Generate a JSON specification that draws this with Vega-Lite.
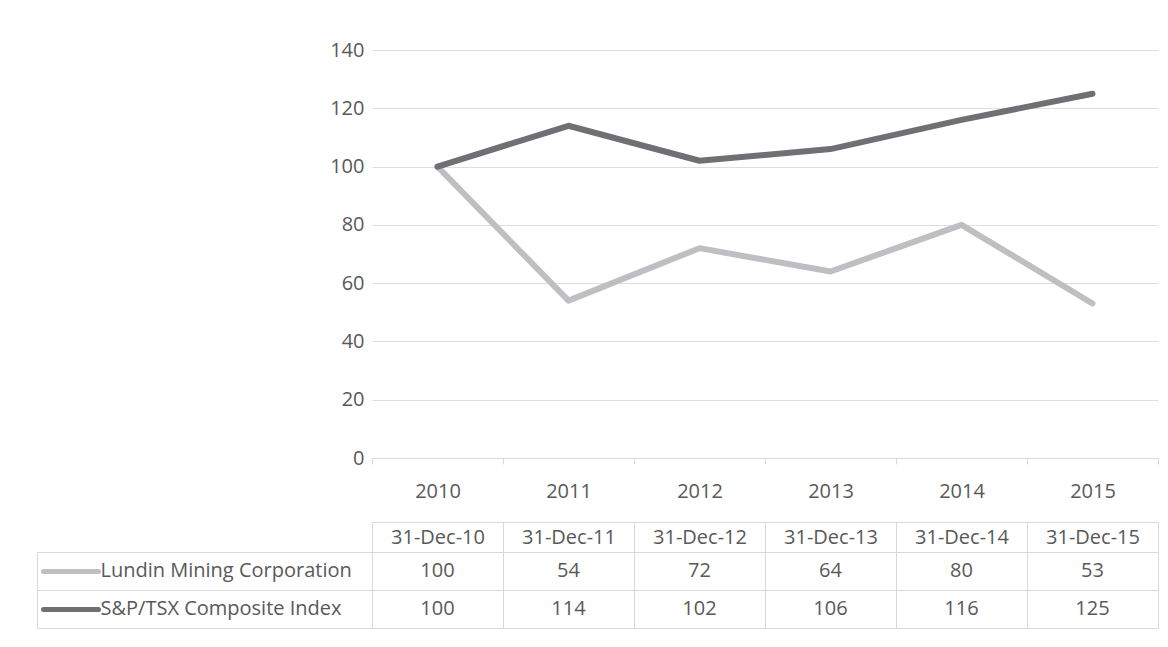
{
  "$schema": "https://vega.github.io/schema/vega-lite/v6.json",
  "padding": {"left": 36, "top": 40, "right": 5, "bottom": 5},
  "background": "white",
  "spacing": 20,
  "config": {
    "font": "Open Sans",
    "view": {"stroke": null},
    "axis": {"labelFont": "Open Sans", "labelFontSize": 20, "labelColor": "#595959"}
  },
  "datasets": {
    "d": [
      {"year": "2010", "series": "Lundin Mining Corporation", "value": 100},
      {"year": "2011", "series": "Lundin Mining Corporation", "value": 54},
      {"year": "2012", "series": "Lundin Mining Corporation", "value": 72},
      {"year": "2013", "series": "Lundin Mining Corporation", "value": 64},
      {"year": "2014", "series": "Lundin Mining Corporation", "value": 80},
      {"year": "2015", "series": "Lundin Mining Corporation", "value": 53},
      {"year": "2010", "series": "S&P/TSX Composite Index", "value": 100},
      {"year": "2011", "series": "S&P/TSX Composite Index", "value": 114},
      {"year": "2012", "series": "S&P/TSX Composite Index", "value": 102},
      {"year": "2013", "series": "S&P/TSX Composite Index", "value": 106},
      {"year": "2014", "series": "S&P/TSX Composite Index", "value": 116},
      {"year": "2015", "series": "S&P/TSX Composite Index", "value": 125}
    ]
  },
  "vconcat": [
    {
      "width": 786,
      "height": 408,
      "data": {"name": "d"},
      "mark": {"type": "line", "strokeWidth": 6, "strokeCap": "round", "strokeJoin": "round"},
      "encoding": {
        "x": {
          "field": "year", "type": "ordinal",
          "scale": {"type": "band", "paddingInner": 0, "paddingOuter": 0},
          "axis": {"title": null, "labelAngle": 0, "tickBand": "extent", "domainColor": "#d9d9d9", "tickColor": "#d9d9d9", "tickSize": 6, "labelPadding": 17, "grid": false}
        },
        "y": {
          "field": "value", "type": "quantitative",
          "scale": {"domain": [0, 140]},
          "axis": {"title": null, "values": [0, 20, 40, 60, 80, 100, 120, 140], "domain": false, "ticks": false, "gridColor": "#dedede", "labelPadding": 8}
        },
        "color": {
          "field": "series", "type": "nominal",
          "scale": {"domain": ["Lundin Mining Corporation", "S&P/TSX Composite Index"], "range": ["#bfbfc3", "#6f7074"]},
          "legend": null
        }
      }
    },
    {
      "width": 786,
      "height": 76,
      "data": {"name": "d"},
      "layer": [
        {
          "mark": {"type": "text", "fontSize": 20, "color": "#595959", "font": "Open Sans", "baseline": "middle"},
          "encoding": {
            "x": {
              "field": "year", "type": "ordinal",
              "scale": {"type": "band", "paddingInner": 0, "paddingOuter": 0},
              "axis": {"orient": "top", "title": null, "labelAngle": 0, "labelExpr": "datum.label ? '31-Dec-' + substring(datum.label, 2) : ''", "tickSize": 30, "tickColor": "#d9d9d9", "domainColor": "#d9d9d9", "grid": true, "gridColor": "#d9d9d9", "tickBand": "extent", "labelPadding": -15, "labelBaseline": "middle"}
            },
            "y": {
              "field": "series", "type": "nominal",
              "scale": {"type": "band", "domain": ["Lundin Mining Corporation", "S&P/TSX Composite Index"], "paddingInner": 0, "paddingOuter": 0},
              "axis": {"title": null, "labels": false, "tickBand": "extent", "tickSize": -335, "offset": 335, "tickColor": "#d9d9d9", "domainColor": "#d9d9d9", "grid": true, "gridColor": "#d9d9d9"}
            },
            "text": {"field": "value", "type": "quantitative"}
          }
        },
        {
          "mark": {"type": "point", "opacity": 0},
          "encoding": {
            "x": {
              "field": "year", "type": "ordinal",
              "scale": {"type": "band", "paddingInner": 0, "paddingOuter": 0},
              "axis": {"orient": "top", "title": null, "labels": false, "ticks": false, "grid": false, "domain": true, "domainColor": "#d9d9d9", "offset": 30}
            },
            "y": {
              "field": "series", "type": "nominal",
              "scale": {"type": "band", "domain": ["Lundin Mining Corporation", "S&P/TSX Composite Index"], "paddingInner": 0, "paddingOuter": 0},
              "axis": {"orient": "left", "title": null, "domain": false, "grid": false, "offset": 274, "tickSize": 55, "tickWidth": 5, "tickCap": "round",
                "tickColor": {"condition": {"test": "datum.value == 'Lundin Mining Corporation'", "value": "#bfbfc3"}, "value": "#6f7074"},
                "labelAlign": "left", "labelPadding": -57, "labelColor": "#595959", "labelFontSize": 20, "labelLimit": 400}
            }
          }
        }
      ],
      "resolve": {"axis": {"x": "independent", "y": "independent"}}
    }
  ]
}
